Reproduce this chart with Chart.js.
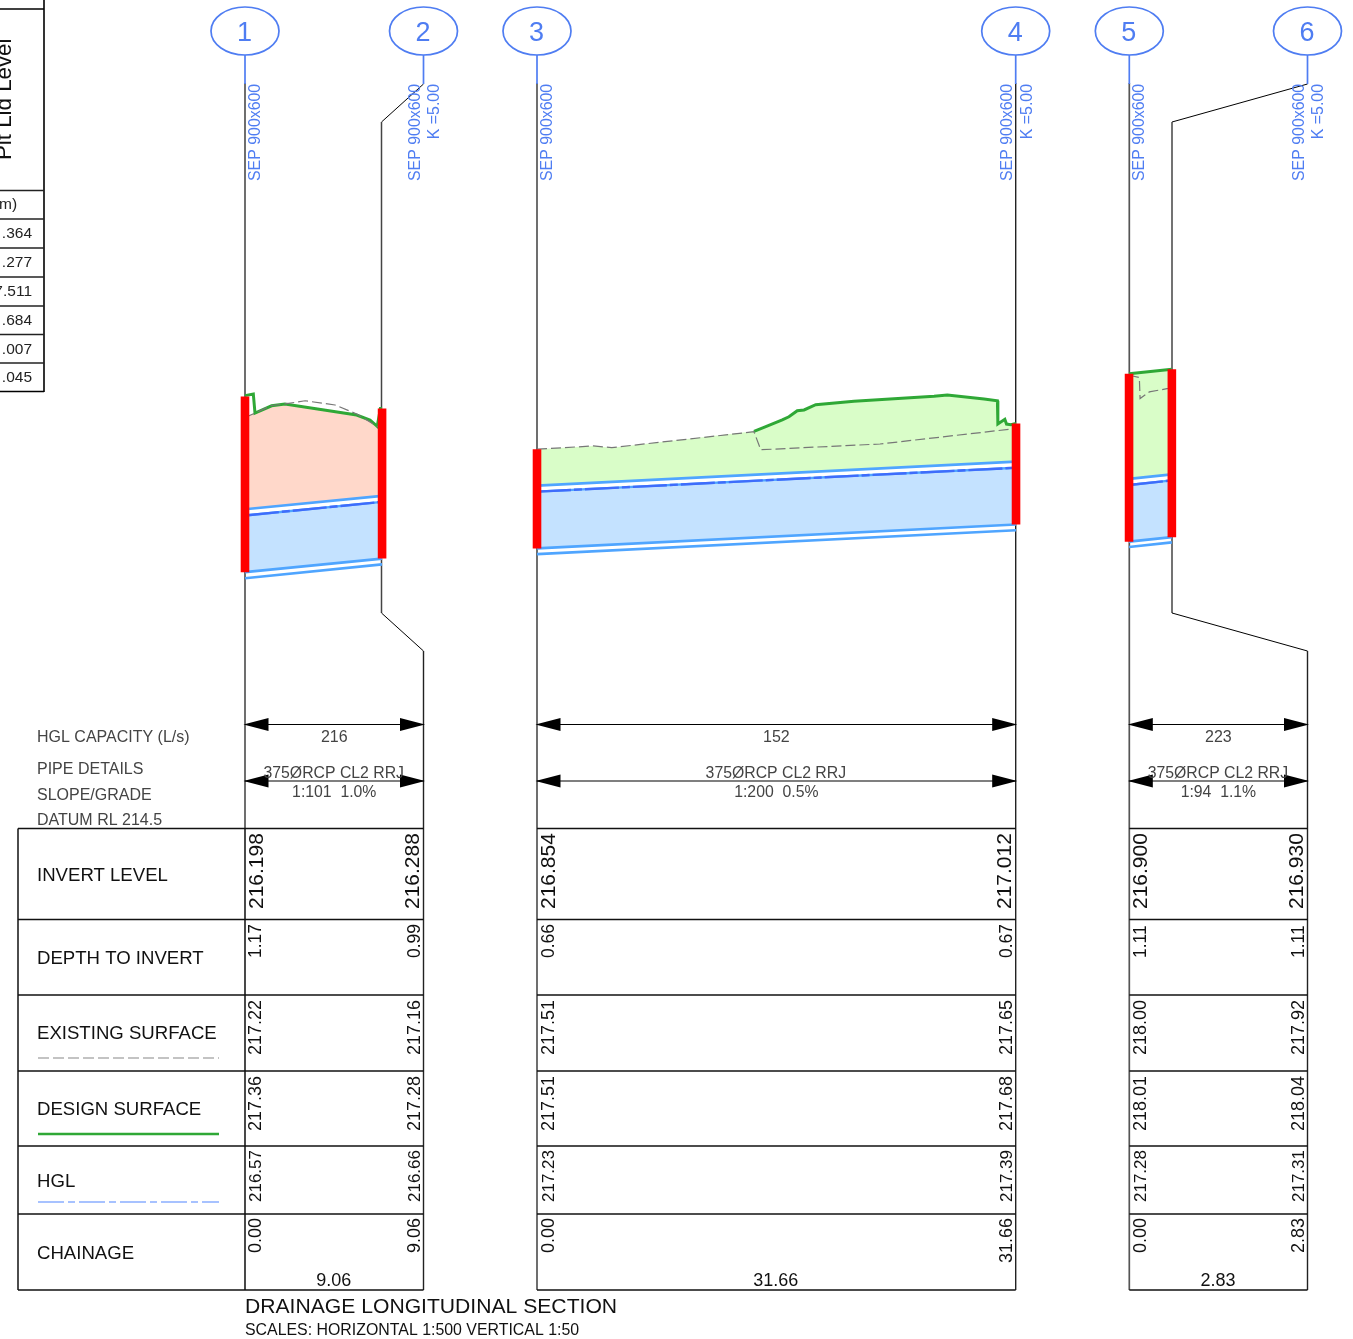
<!DOCTYPE html>
<html>
<head>
<meta charset="utf-8">
<title>Drainage longitudinal section</title>
<script src="https://cdn.jsdelivr.net/npm/chart.js@4/dist/chart.umd.min.js"></script>
<style>
  html, body { margin: 0; padding: 0; background: #fff; }
  canvas { display: block; }
</style>
</head>
<body>
<canvas id="section" width="1353" height="1339"></canvas>
<script>
// ------------------------------
// data, chainage (m) and RL (m)
const sec1Ends = [0, 9.06];
const sec1Invert = [216.198, 216.288];
const sec1Hgl = [216.573, 216.663];
const sec1PipeTop = [216.614, 216.703];
const sec1PipeBottom = [216.158, 216.25];
const sec1ExistCh = [0, 0.66, 1.76, 2.64, 3.97, 5.95, 7.38, 8.74, 9.06];
const sec1ExistRl = [217.22, 217.25, 217.3, 217.31, 217.331, 217.303, 217.244, 217.162, 217.16];
const sec1DesignCh = [0, 0.55, 0.66, 1.76, 2.64, 7.38, 8.26, 8.74, 8.95, 9.06];
const sec1DesignRl = [217.365, 217.376, 217.25, 217.298, 217.31, 217.237, 217.204, 217.162, 217.28, 217.28];
const sec1CutCh = [0, 0.66, 1.76, 2.64, 7.38, 8.26, 8.74, 9.06];
const sec1CutRl = [217.22, 217.25, 217.298, 217.31, 217.237, 217.204, 217.162, 217.16];

const sec2Ends = [0, 31.66];
const sec2Invert = [216.854, 217.012];
const sec2Hgl = [217.229, 217.387];
const sec2PipeTop = [217.269, 217.428];
const sec2PipeBottom = [216.816, 216.974];
const sec2ExistCh = [0, 3.72, 4.94, 14.34, 14.79, 22.67, 31.37, 31.66];
const sec2ExistRl = [217.51, 217.531, 217.52, 217.625, 217.506, 217.544, 217.643, 217.65];
const sec2DesignCh = [14.34, 15, 16.21, 16.65, 17.2, 17.65, 18.42, 20.95, 26.24, 27.12, 29.55, 30.43, 30.46, 30.92, 31.03, 31.32, 31.66];
const sec2DesignRl = [217.628, 217.654, 217.703, 217.724, 217.764, 217.769, 217.804, 217.826, 217.859, 217.868, 217.841, 217.83, 217.676, 217.707, 217.676, 217.672, 217.68];
const sec2FillCh = [0, 3.72, 4.94, 14.34, 15, 16.21, 16.65, 17.2, 17.65, 18.42, 20.95, 26.24, 27.12, 29.55, 30.43, 30.46, 30.92, 31.03, 31.32, 31.66];
const sec2FillRl = [217.51, 217.531, 217.52, 217.628, 217.654, 217.703, 217.724, 217.764, 217.769, 217.804, 217.826, 217.859, 217.868, 217.841, 217.83, 217.676, 217.707, 217.676, 217.672, 217.68];

const sec3Ends = [0, 2.83];
const sec3Invert = [216.9, 216.93];
const sec3Hgl = [217.275, 217.305];
const sec3PipeTop = [217.315, 217.345];
const sec3PipeBottom = [216.865, 216.895];
const sec3ExistCh = [0, 0.68, 0.73, 1.34, 2.59, 2.83];
const sec3ExistRl = [218, 217.985, 217.846, 217.89, 217.913, 217.92];
const sec3DesignCh = [0, 2.83];
const sec3DesignRl = [218.01, 218.04];

// start of each run along the sheet (m)
const sectionStart = [0, 19.3, 58.43];

// table values
const pitNames = ["1", "2", "3", "4", "5", "6"];
const invertLabels = ["216.198", "216.288", "216.854", "217.012", "216.900", "216.930"];
const depthLabels = ["1.17", "0.99", "0.66", "0.67", "1.11", "1.11"];
const existingLabels = ["217.22", "217.16", "217.51", "217.65", "218.00", "217.92"];
const designLabels = ["217.36", "217.28", "217.51", "217.68", "218.01", "218.04"];
const hglLabels = ["216.57", "216.66", "217.23", "217.39", "217.28", "217.31"];
const chainageLabels = ["0.00", "9.06", "0.00", "31.66", "0.00", "2.83"];
const capacityLabels = ["216", "152", "223"];
const slopeLabels = ["1:101  1.0%", "1:200  0.5%", "1:94  1.1%"];
const lengthLabels = ["9.06", "31.66", "2.83"];
const lidLabels = ["m)", ".364", ".277", "7.511", ".684", ".007", ".045"];

// ------------------------------
// sheet scale, 1:500 and 1:50
const PX_PER_M_X = 15.13;
const PX_PER_M_Y = 151.3;
const W = 1353;
const H = 1339;

const RED = "#ff0000";
const GREEN = "#2fa836";
const PIPE = "#4fa5ff";
const HGL = "#3f6cfb";
const EXIST = "#777777";
const BLUE_TXT = "#4f7df2";
const FILL_CUT = "#ffd8ca";
const FILL_BANK = "#d9fdc8";
const FILL_PIPE = "#c4e2ff";

function pts(start, ch, rl) {
  return ch.map((c, i) => ({ x: start + c, y: rl[i] }));
}

function yScale(refRl, refPx) {
  const max = refRl + refPx / PX_PER_M_Y;
  return { display: false, type: "linear", min: max - H / PX_PER_M_Y, max };
}

function lineSet(data, yAxisID, color, width, order, dash) {
  return {
    data, yAxisID, order,
    showLine: true, fill: false, tension: 0,
    borderColor: color, borderWidth: width,
    borderDash: dash || [], borderCapStyle: "butt",
    pointRadius: 0, pointHoverRadius: 0,
  };
}

function areaSet(data, yAxisID, color) {
  return {
    data, yAxisID, order: 9,
    showLine: true, fill: "shape", tension: 0,
    backgroundColor: color, borderColor: color, borderWidth: 0,
    pointRadius: 0, pointHoverRadius: 0,
  };
}

function sectionSets(start, axis, ends, invert, hgl, top, bottom, existCh, existRl, desCh, desRl, fillCh, fillRl, surface, color) {
  const sets = [];
  // areas
  sets.push(areaSet(pts(start, fillCh, fillRl).concat(pts(start, ends, top).reverse()), axis, color));
  sets.push(areaSet(pts(start, ends, hgl).concat(pts(start, ends, invert).reverse()), axis, FILL_PIPE));
  // pipe walls
  [top, invert, bottom].forEach((w) => sets.push(lineSet(pts(start, ends, w), axis, PIPE, 2.7, 4)));
  sets.push(lineSet(pts(start, ends, hgl), axis, PIPE, 2.4, 4));
  sets.push(lineSet(pts(start, ends, hgl), axis, HGL, 2.4, 3, [34, 3, 8, 3]));
  // surfaces
  sets.push(lineSet(pts(start, existCh, existRl), axis, EXIST, 1.2, 2, [10, 4]));
  sets.push(lineSet(pts(start, desCh, desRl), axis, GREEN, 3, 2));
  // pits
  ends.forEach((c, i) => {
    sets.push(lineSet(pts(start, [c, c], [invert[i], surface[i]]), axis, RED, 8.6, 1));
  });
  return sets;
}

const datasets = [
  ...sectionSets(sectionStart[0], "y1", sec1Ends, sec1Invert, sec1Hgl, sec1PipeTop, sec1PipeBottom,
    sec1ExistCh, sec1ExistRl, sec1DesignCh, sec1DesignRl, sec1CutCh, sec1CutRl, [217.36, 217.28], FILL_CUT),
  ...sectionSets(sectionStart[1], "y2", sec2Ends, sec2Invert, sec2Hgl, sec2PipeTop, sec2PipeBottom,
    sec2ExistCh, sec2ExistRl, sec2DesignCh, sec2DesignRl, sec2FillCh, sec2FillRl, [217.51, 217.68], FILL_BANK),
  ...sectionSets(sectionStart[2], "y3", sec3Ends, sec3Invert, sec3Hgl, sec3PipeTop, sec3PipeBottom,
    sec3ExistCh, sec3ExistRl, sec3DesignCh, sec3DesignRl, sec3DesignCh, sec3DesignRl, [218.01, 218.04], FILL_BANK),
];

// ------------------------------
// sheet furniture
const FONT = '"Liberation Sans", Arial, sans-serif';
const pitX = [245, 423.5, 537, 1015.7, 1129.3, 1307.5];
const spans = [[245, 423.5], [537, 1015.7], [1129.3, 1307.5]];
const rowY = [828.5, 919.5, 995, 1071, 1146, 1214, 1290];

function stroke(ctx, pts, color, width, dash) {
  ctx.save();
  ctx.beginPath();
  pts.forEach((p, i) => (i ? ctx.lineTo(p[0], p[1]) : ctx.moveTo(p[0], p[1])));
  ctx.strokeStyle = color;
  ctx.lineWidth = width;
  ctx.setLineDash(dash || []);
  ctx.stroke();
  ctx.restore();
}

function text(ctx, str, x, y, size, color, align) {
  ctx.font = size + "px " + FONT;
  ctx.fillStyle = color;
  ctx.textAlign = align || "left";
  ctx.textBaseline = "alphabetic";
  ctx.fillText(str, x, y);
}

function vtext(ctx, str, x, y, size, color, align) {
  ctx.save();
  ctx.translate(x, y);
  ctx.rotate(-Math.PI / 2);
  text(ctx, str, 0, 0, size, color, align);
  ctx.restore();
}

function arrow(ctx, x0, x1, y) {
  stroke(ctx, [[x0, y], [x1, y]], "#000", 1.2);
  [[x0 - 1.5, 1], [x1 + 1.5, -1]].forEach(([x, d]) => {
    ctx.beginPath();
    ctx.moveTo(x, y);
    ctx.lineTo(x + d * 25, y - 6.4);
    ctx.lineTo(x + d * 25, y + 6.4);
    ctx.closePath();
    ctx.fillStyle = "#000";
    ctx.fill();
  });
}

const sheetPlugin = {
  id: "sheet",
  beforeDatasetsDraw(chart) {
    const ctx = chart.ctx;
    ctx.save();
    // straight pit lines
    [0, 2, 4].forEach((i) => stroke(ctx, [[pitX[i], 83], [pitX[i], 1290]], "#555", 1.7));
    stroke(ctx, [[pitX[3], 83], [pitX[3], 1290]], "#222", 1.4);
    // offset pit lines
    [[1, 381.5], [5, 1172]].forEach(([i, x]) => {
      stroke(ctx, [[pitX[i], 84], [x, 122]], "#000", 1);
      stroke(ctx, [[x, 122], [x, 613]], "#444", 1.5);
      stroke(ctx, [[x, 613], [pitX[i], 651]], "#000", 1);
      stroke(ctx, [[pitX[i], 651], [pitX[i], 1290]], "#222", 1.4);
    });
    ctx.restore();
  },
  afterDatasetsDraw(chart) {
    const ctx = chart.ctx;
    ctx.save();

    // pit bubbles
    pitNames.forEach((name, i) => {
      const x = pitX[i];
      ctx.beginPath();
      ctx.ellipse(x, 31, 34, 24, 0, 0, Math.PI * 2);
      ctx.strokeStyle = BLUE_TXT;
      ctx.lineWidth = 1.7;
      ctx.stroke();
      stroke(ctx, [[x, 55], [x, 84]], BLUE_TXT, 1.7);
      text(ctx, name, x - 0.5, 40.5, 27, BLUE_TXT, "center");
    });

    // pit notes
    [260, 420.3, 552, 1012, 1144, 1304].forEach((x) => vtext(ctx, "SEP 900x600", x, 181, 15.9, BLUE_TXT));
    [439, 1032, 1323].forEach((x) => vtext(ctx, "K =5.00", x, 84, 15.9, BLUE_TXT, "right"));

    // lid level table, cut by the sheet edge
    stroke(ctx, [[44, 0], [44, 392]], "#000", 1.6);
    stroke(ctx, [[0, 9], [44, 9]], "#000", 1.4);
    [190.5, 219, 248, 277, 306, 334.5, 363].forEach((y) => stroke(ctx, [[0, y], [44, y]], "#222", 1.3));
    stroke(ctx, [[0, 391.5], [44, 391.5]], "#000", 1.6);
    vtext(ctx, "Pit Lid Level", 11, 160, 22.3, "#111");
    lidLabels.forEach((s, i) => {
      if (i === 0) text(ctx, s, -1, 209, 15.5, "#222");
      else text(ctx, s, 32, 209.5 + i * 28.8, 15.5, "#222", "right");
    });

    // dimension lines
    spans.forEach(([a, b]) => {
      arrow(ctx, a, b, 724.5);
      arrow(ctx, a, b, 781);
    });

    // left labels
    const grey = "#444";
    text(ctx, "HGL CAPACITY (L/s)", 37, 742, 16, grey);
    text(ctx, "PIPE DETAILS", 37, 774, 16, grey);
    text(ctx, "SLOPE/GRADE", 37, 800, 16, grey);
    text(ctx, "DATUM RL 214.5", 37, 825, 16, grey);
    text(ctx, "INVERT LEVEL", 37, 881, 18.6, "#111");
    text(ctx, "DEPTH TO INVERT", 37, 964, 18.6, "#111");
    text(ctx, "EXISTING SURFACE", 37, 1039, 18.6, "#111");
    text(ctx, "DESIGN SURFACE", 37, 1115, 18.6, "#111");
    text(ctx, "HGL", 37, 1187, 18.6, "#111");
    text(ctx, "CHAINAGE", 37, 1259, 18.6, "#111");

    // legend swatches
    stroke(ctx, [[38, 1058], [219, 1058]], "#888", 1.1, [11, 4]);
    stroke(ctx, [[38, 1134], [219, 1134]], GREEN, 2.6);
    stroke(ctx, [[38, 1202], [219, 1202]], "#8aaeff", 1.6, [26, 4, 7, 4]);

    // table grid
    stroke(ctx, [[18, rowY[0]], [18, rowY[6]]], "#000", 1.4);
    stroke(ctx, [[245, rowY[0]], [245, rowY[6]]], "#444", 1.7);
    rowY.forEach((y) => {
      stroke(ctx, [[18, y], [423.5, y]], "#111", 1.3);
      stroke(ctx, [[537, y], [1015.7, y]], "#111", 1.3);
      stroke(ctx, [[1129.3, y], [1307.5, y]], "#111", 1.3);
    });

    // run captions
    spans.forEach(([a, b], i) => {
      const mid = (a + b) / 2;
      text(ctx, capacityLabels[i], mid, 742, 16, grey, "center");
      text(ctx, "375ØRCP CL2 RRJ", mid - 0.5, 778, 15.8, grey, "center");
      text(ctx, slopeLabels[i], mid, 797, 15.8, grey, "center");
      text(ctx, lengthLabels[i], mid - 0.5, 1286, 18, "#111", "center");
    });

    // pit values
    const invertX = [262.5, 418.5, 555, 1011, 1147, 1303];
    const rowX = [261, 419.5, 553.5, 1011.5, 1145.5, 1303.5];
    pitNames.forEach((_, i) => {
      const rx = rowX[i];
      vtext(ctx, invertLabels[i], invertX[i], 909, 21, "#111");
      vtext(ctx, depthLabels[i], rx, 958, 17.5, "#111");
      vtext(ctx, existingLabels[i], rx, 1055, 18, "#111");
      vtext(ctx, designLabels[i], rx, 1131, 18, "#111");
      vtext(ctx, hglLabels[i], rx, 1202, 17, "#111");
      vtext(ctx, chainageLabels[i], rx, 1218, 18, "#111", "right");
    });

    // title
    text(ctx, "DRAINAGE LONGITUDINAL SECTION", 245, 1313, 21.13, "#111");
    text(ctx, "SCALES: HORIZONTAL 1:500 VERTICAL 1:50", 245, 1335, 15.9, "#111");

    ctx.restore();
  },
};

new Chart(document.getElementById("section"), {
  type: "scatter",
  data: { datasets },
  options: {
    responsive: false,
    animation: false,
    events: [],
    layout: { padding: 0 },
    plugins: { legend: { display: false }, tooltip: { enabled: false } },
    scales: {
      x: { display: false, type: "linear", min: -245 / PX_PER_M_X, max: (W - 245) / PX_PER_M_X },
      y1: yScale(216.198, 572.2),
      y2: yScale(216.854, 548.4),
      y3: yScale(216.9, 541.7),
    },
  },
  plugins: [sheetPlugin],
});
</script>
</body>
</html>
